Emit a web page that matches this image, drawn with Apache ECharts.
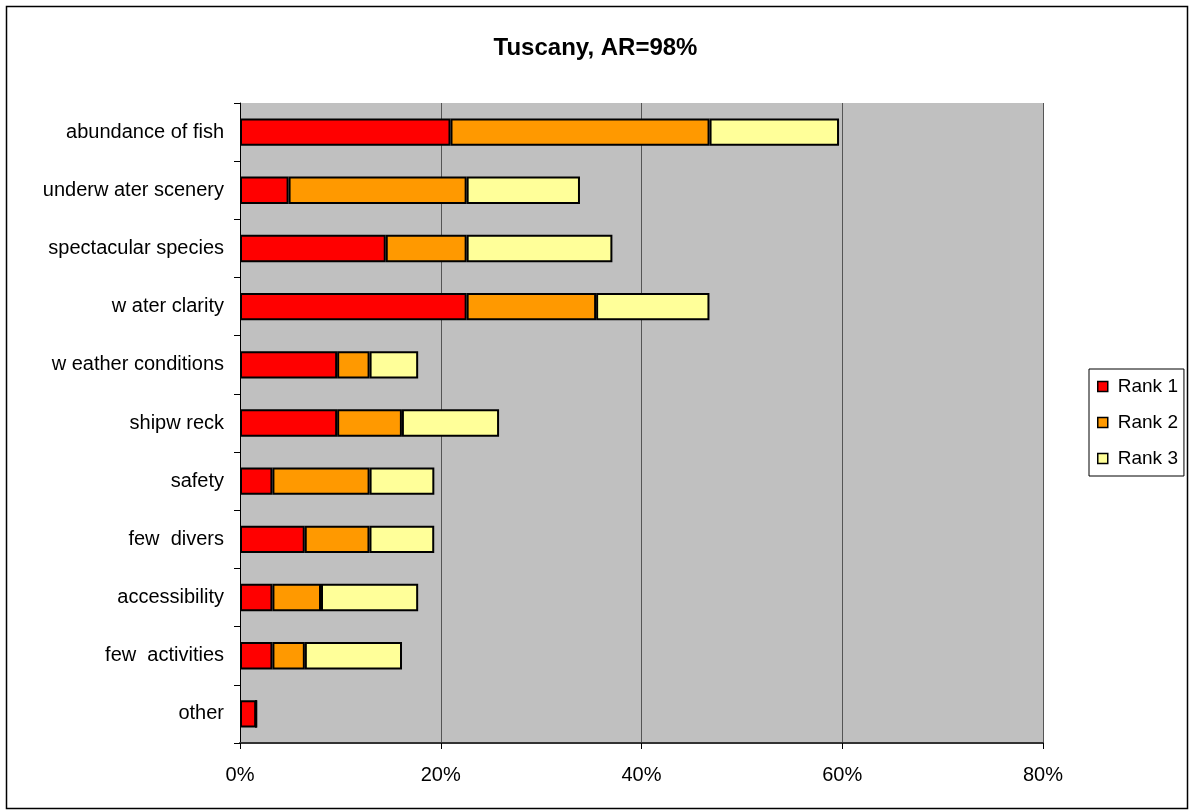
<!DOCTYPE html>
<html><head><meta charset="utf-8">
<script src="https://cdn.jsdelivr.net/npm/echarts@6/dist/echarts.min.js"></script>
<style>html,body{margin:0;padding:0;background:#fff}#c{width:1191px;height:812px}</style>
</head><body><div id="c"></div>
<script>
const categories = ["abundance of fish","underw ater scenery","spectacular species","w ater clarity","w eather conditions","shipw reck","safety","few  divers","accessibility","few  activities","other"];
const rank1 = [20.97, 4.84, 14.52, 22.58, 9.68, 9.68, 3.23, 6.45, 3.23, 3.23, 1.61];
const rank2 = [25.81, 17.74, 8.06, 12.90, 3.23, 6.45, 9.68, 6.45, 4.84, 3.23, 0];
const rank3 = [12.90, 11.29, 14.52, 11.29, 4.84, 9.68, 6.45, 6.45, 9.68, 9.68, 0];
const xTicks = [0, 20, 40, 60, 80];
const seriesNames = ["Rank 1","Rank 2","Rank 3"];
const colors = ["#FF0000","#FF9900","#FFFF99"];

const chart = echarts.init(document.getElementById('c'));
const font = "Liberation Sans, Arial, sans-serif";
const mk = (name, data, color) => ({
  name, type: 'bar', stack: 'total', data, barCategoryGap: '53%',
  itemStyle: { color, borderColor: '#000', borderWidth: 2 },
  emphasis: { disabled: true }
});
chart.setOption({
  animation: false,
  backgroundColor: '#fff',
  title: { text: 'Tuscany, AR=98%', left: 'center', top: 31, textStyle: { fontFamily: font, fontSize: 24, fontWeight: 'bold', color: '#000' } },
  legend: {
    orient: 'vertical', left: 1089, top: 369,
    padding: [8, 6, 8, 8], itemGap: 17,
    borderColor: '#000', borderWidth: 1, backgroundColor: '#fff',
    icon: 'rect', itemWidth: 10, itemHeight: 10,
    itemStyle: { borderColor: '#000', borderWidth: 1.5 },
    textStyle: { fontFamily: font, fontSize: 19, color: '#000', padding: [0, 0, 0, 5] },
    data: seriesNames
  },
  grid: { left: 240, right: 148, top: 103, bottom: 69, show: true, backgroundColor: '#C0C0C0', borderWidth: 0 },
  xAxis: {
    type: 'value', min: xTicks[0], max: xTicks[xTicks.length-1], interval: 20,
    axisLine: { show: true, lineStyle: { color: '#333', width: 2 } },
    axisTick: { show: true, length: 6, lineStyle: { color: '#000' } },
    axisLabel: { formatter: v => v + '%', fontFamily: font, fontSize: 20, color: '#000', margin: 22 },
    splitLine: { show: true, lineStyle: { color: '#555', width: 1 } }
  },
  yAxis: {
    type: 'category', data: categories, inverse: true,
    axisLine: { show: true, lineStyle: { color: '#000', width: 1 } },
    axisTick: { show: true, length: 6, lineStyle: { color: '#000' } },
    axisLabel: { fontFamily: font, fontSize: 20, color: '#000', margin: 16 },
    splitLine: { show: false }
  },
  graphic: [{ type: 'rect', shape: { x: 6.5, y: 6.5, width: 1181, height: 802 }, style: { fill: 'none', stroke: '#000', lineWidth: 1.5 }, silent: true }],
  series: [mk(seriesNames[0], rank1, colors[0]), mk(seriesNames[1], rank2, colors[1]), mk(seriesNames[2], rank3, colors[2])]
});
</script></body></html>
